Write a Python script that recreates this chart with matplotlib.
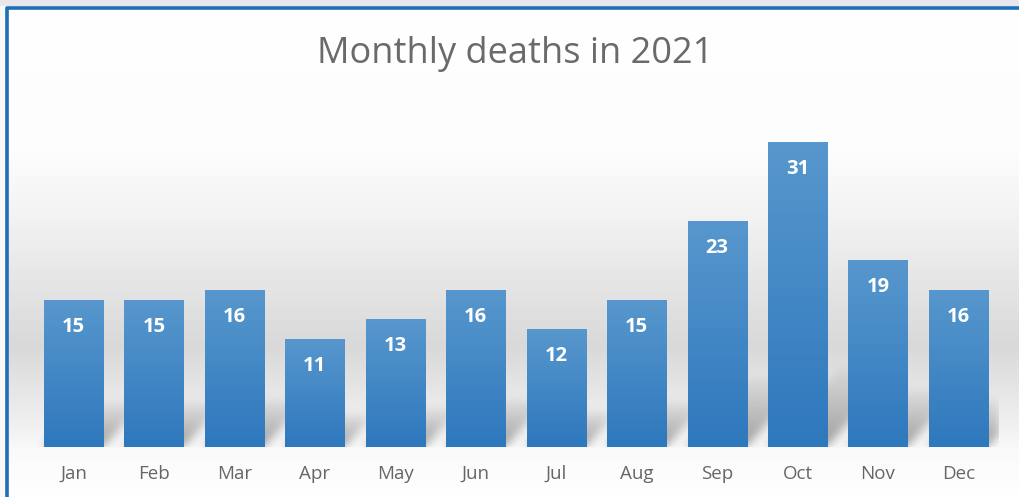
import numpy as np
import matplotlib.pyplot as plt
from matplotlib.colors import LinearSegmentedColormap, to_rgb

# data
months = ['Jan', 'Feb', 'Mar', 'Apr', 'May', 'Jun',
          'Jul', 'Aug', 'Sep', 'Oct', 'Nov', 'Dec']
deaths = [15, 15, 16, 11, 13, 16, 12, 15, 23, 31, 19, 16]
title = 'Monthly deaths in 2021'

W, H = 1020, 497
FONT = 'Open Sans'
GREY_TXT = '#666666'

fig = plt.figure(figsize=(W / 100, H / 100), dpi=100)

# page background: soft vertical grey band like the Excel chart fill
bg = fig.add_axes([0, 0, 1, 1], zorder=0)
stops = [(0, '#ffffff'), (150, '#fdfdfd'), (220, '#f2f2f2'), (290, '#e4e4e4'),
         (345, '#d9d9d9'), (390, '#e6e6e6'), (430, '#f2f2f2'), (450, '#fafafa'),
         (497, '#ffffff')]
ys = np.arange(H)
col = np.zeros((H, 3))
for c in range(3):
    col[:, c] = np.interp(ys, [s[0] for s in stops], [to_rgb(s[1])[c] for s in stops])
img = np.repeat(col[:, None, :], 4, axis=1)
bg.imshow(img, extent=[0, W, H, 0], aspect='auto', interpolation='bilinear')
# screen strip above and border of the chart box
bg.fill_between([0, W], 0, 6, color='#e9e7ee', lw=0)
bg.fill_between([0, 6], 6, H, color='#f8f8f8', lw=0)
bg.plot([7.5, 7.5, W], [H, 8, 8], color='#1f6fb4', lw=2.6, solid_capstyle='butt')
bg.set_xlim(0, W)
bg.set_ylim(H, 0)
bg.axis('off')

# main axes
x0, x1 = 33.3, 998.7
yb, yt = 447, 103
ax = fig.add_axes([x0 / W, (H - yb) / H, (x1 - x0) / W, (yb - yt) / H], zorder=1)
ax.patch.set_alpha(0)
ax.set_xlim(-0.5, 11.5)
ax.set_ylim(0, 35)

xs = np.arange(len(months))
bars = ax.bar(xs, deaths, width=0.735, color='#4288c7', zorder=3)

# diagonal soft shadows behind the bars
nx, ny = 966, 90
gx = np.linspace(-0.5, 11.5, nx)
gy = np.linspace(0, 9, ny)
GX, GY = np.meshgrid(gx, gy)
mask = np.zeros_like(GX)
k = 0.11
for b in bars:
    L, R, h = b.get_x(), b.get_x() + b.get_width(), b.get_height()
    sh = min(0.3 * h, 8)
    sx = GX - GY * k
    m = (sx >= L) & (sx <= R) & (GY <= sh)
    mask = np.maximum(mask, m * (1 - GY / (sh * 1.15)))


def blur(a, s, axis):
    r = int(3 * s)
    kern = np.exp(-0.5 * (np.arange(-r, r + 1) / s) ** 2)
    kern /= kern.sum()
    return np.apply_along_axis(lambda v: np.convolve(v, kern, mode='same'), axis, a)


mask = blur(blur(mask, 5, 1), 4, 0)
shadow = np.zeros((ny, nx, 4))
shadow[..., :3] = 0.5
shadow[..., 3] = np.clip(mask * 0.75, 0, 1)
ax.imshow(shadow, extent=[-0.5, 11.5, 0, 9], origin='lower', aspect='auto',
          zorder=2, interpolation='bilinear')

# gradient fill on bars
cmap = LinearSegmentedColormap.from_list('barg', ['#2f78bd', '#5797cd'])
grad = np.linspace(0, 1, 100)[:, None]
for b in bars:
    im = ax.imshow(grad, extent=[b.get_x(), b.get_x() + b.get_width(), 0, b.get_height()],
                   origin='lower', aspect='auto', cmap=cmap, zorder=4)
    im.set_clip_path(b)

for x, v in zip(xs, deaths):
    ax.annotate(str(v), xy=(x, v), xytext=(0, -19.5), textcoords='offset points',
                ha='center', va='center', color='white', fontsize=14.5,
                fontweight='bold', family=FONT, zorder=5)

ax.set_xticks(xs)
ax.set_xticklabels(months, family=FONT, fontsize=13.5, color=GREY_TXT)
ax.tick_params(axis='x', length=0, pad=13)
ax.set_yticks([])
for s in ax.spines.values():
    s.set_visible(False)
ax.set_xlim(-0.5, 11.5)
ax.set_ylim(0, 35)

fig.text(515 / W, 1 - 54 / H, title, ha='center', va='center',
         family=FONT, fontsize=26, color='#6a6a6a')

fig.savefig('out.png', dpi=100)
